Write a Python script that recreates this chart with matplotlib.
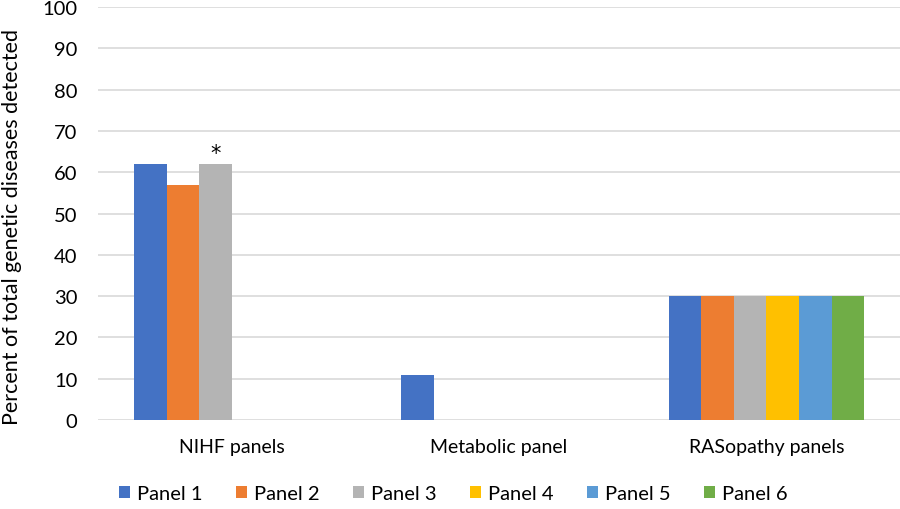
import numpy as np
import matplotlib
matplotlib.use('Agg')
import matplotlib.pyplot as plt

categories = ['NIHF panels', 'Metabolic panel', 'RASopathy panels']
series = ['Panel 1', 'Panel 2', 'Panel 3', 'Panel 4', 'Panel 5', 'Panel 6']
values = {
    'Panel 1': [62, 11, 30],
    'Panel 2': [57, 0, 30],
    'Panel 3': [62, 0, 30],
    'Panel 4': [0, 0, 30],
    'Panel 5': [0, 0, 30],
    'Panel 6': [0, 0, 30],
}
colors = ['#4472c4', '#ed7d31', '#b4b4b4', '#ffc000', '#5b9bd5', '#70ad47']

plt.rcParams['font.family'] = ['Lato', 'DejaVu Sans']

fig = plt.figure(figsize=(9, 5.1), dpi=100)
ax = fig.add_axes([0.109, 0.1745, 0.891, 0.8095])

x = np.arange(len(categories))
w = 0.122
for i, s in enumerate(series):
    ax.bar(x + (i - 2.5) * w, values[s], w, color=colors[i], label=s, zorder=3)

# asterisk over panel 3 of NIHF
ax.annotate('*', (x[0] - 0.5 * w, values['Panel 3'][0]), xytext=(0, 8),
            textcoords='offset points', ha='center', va='center', fontsize=15,
            family='DejaVu Sans')

ax.set_xlim(-0.5, 2.5)
ax.set_ylim(0, 100)
ax.set_yticks(range(0, 101, 10))
ax.set_xticks(x)
ax.set_xticklabels(categories)
ax.tick_params(axis='y', length=0, labelsize=14.5, pad=15)
ax.tick_params(axis='x', length=0, labelsize=14, pad=13)
ax.grid(axis='y', color='#d9d9d9', linewidth=1.2, zorder=0)
for sp in ax.spines.values():
    sp.set_visible(False)
ax.set_ylabel('Percent of total genetic diseases detected', fontsize=15.5)
ax.yaxis.set_label_coords(-0.095, 0.47)

fig.legend(loc='center', bbox_to_anchor=(0.504, 0.03), ncol=6, frameon=False,
           fontsize=14.5, handlelength=0.55, handleheight=0.55, handletextpad=0.35,
           columnspacing=1.65)

fig.savefig('out.png', dpi=100)
